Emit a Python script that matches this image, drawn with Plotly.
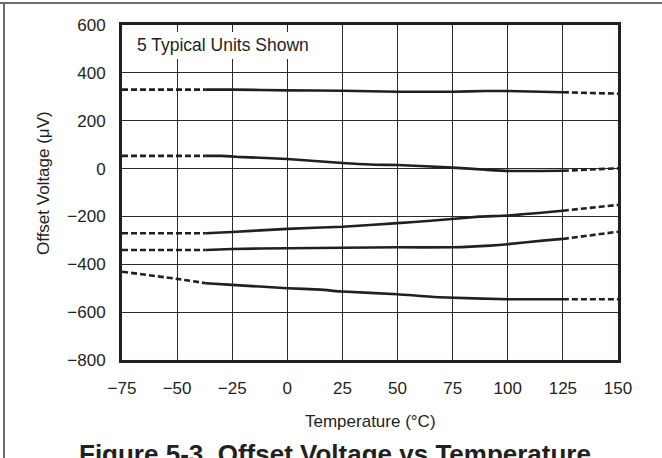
import plotly.graph_objects as go

# ---- data ----
x_ticks = [-75, -50, -25, 0, 25, 50, 75, 100, 125, 150]
y_ticks = [-800, -600, -400, -200, 0, 200, 400, 600]
measured_min = -37   # start of measured (solid) region
measured_max = 125   # end of measured (solid) region

unit1_T = [-75, -37, -25, 0, 25, 50, 75, 90, 100, 110, 125, 150]
unit1_V = [330, 330, 330, 327, 325, 321, 321, 324, 324, 322, 319, 313]

unit2_T = [-75, -37, -30, -20, 0, 25, 40, 50, 75, 90, 100, 125, 150]
unit2_V = [53, 53, 53, 48, 40, 23, 16, 15, 4, -5, -10, -9, 1]

unit3_T = [-75, -37, -25, 0, 25, 50, 65, 87, 100, 125, 150]
unit3_V = [-270, -270, -265, -252, -243, -228, -218, -201, -196, -176, -152]

unit4_T = [-75, -37, -25, 0, 50, 75, 92, 100, 117, 125, 150]
unit4_V = [-340, -340, -336, -333, -329, -329, -322, -316, -300, -294, -264]

unit5_T = [-75, -50, -37, -25, 0, 15, 25, 50, 69, 100, 125, 150]
unit5_V = [-431, -461, -479, -486, -500, -506, -514, -525, -538, -546, -546, -546]

units = [(unit1_T, unit1_V), (unit2_T, unit2_V), (unit3_T, unit3_V),
         (unit4_T, unit4_V), (unit5_T, unit5_V)]

INK = "#231f20"
FONT = "Liberation Sans, Arial, Helvetica, sans-serif"

fig = go.Figure()
for T, V in units:
    left = [(t, v) for t, v in zip(T, V) if t <= measured_min]
    mid = [(t, v) for t, v in zip(T, V) if measured_min <= t <= measured_max]
    right = [(t, v) for t, v in zip(T, V) if t >= measured_max]
    for seg, dash in ((left, "6px,3px"), (mid, "solid"), (right, "6px,3px")):
        fig.add_trace(go.Scatter(
            x=[p[0] for p in seg], y=[p[1] for p in seg], mode="lines",
            line=dict(color=INK, width=2.6, dash=dash, shape="spline", smoothing=0.4),
            showlegend=False, hoverinfo="skip"))

axis_common = dict(
    showgrid=True, gridcolor="#2b2b2b", gridwidth=1,
    showline=True, linecolor=INK, linewidth=3, mirror=True,
    zeroline=False, ticks="",
    tickfont=dict(family=FONT, size=17, color=INK),
)

fig.update_xaxes(range=[-75, 150], tickvals=x_ticks, ticklabelstandoff=11, **axis_common)
fig.update_yaxes(range=[-800, 600], tickvals=y_ticks, ticklabelstandoff=10, **axis_common)

# white label box covering grid
fig.add_shape(type="rect", xref="x", yref="y", x0=-75, x1=24, y0=458, y1=571,
              fillcolor="white", line=dict(width=0), layer="between")
fig.add_annotation(x=-69, y=516, xref="x", yref="y", text="5 Typical Units Shown",
                   showarrow=False, xanchor="left", yanchor="middle",
                   font=dict(family=FONT, size=17.5, color=INK))

W, H = 662, 458
L, R, T_, B = 122, 44, 25, 98
pw, ph = W - L - R, H - T_ - B

def px(xp):
    return (xp - L) / pw

def py(yp):
    return (H - B - yp) / ph

fig.add_annotation(x=0.5, y=py(422), xref="paper", yref="paper",
                   text="Temperature (°C)", showarrow=False,
                   xanchor="center", yanchor="middle",
                   font=dict(family=FONT, size=17, color=INK))
fig.add_annotation(x=px(43), y=py(183), xref="paper", yref="paper",
                   text="Offset Voltage (μV)", showarrow=False, textangle=-90,
                   xanchor="center", yanchor="middle",
                   font=dict(family=FONT, size=17, color=INK))
fig.add_annotation(x=px(335), y=py(437), xref="paper", yref="paper",
                   text="<b>Figure 5-3. Offset Voltage vs Temperature</b>",
                   showarrow=False, xanchor="center", yanchor="top",
                   font=dict(family=FONT, size=26, color=INK))

# page frame lines (top and left)
fig.add_shape(type="line", xref="paper", yref="paper",
              x0=px(0), x1=px(W), y0=py(3), y1=py(3),
              line=dict(color="#6d6d6d", width=2))
fig.add_shape(type="line", xref="paper", yref="paper",
              x0=px(4), x1=px(4), y0=py(3), y1=py(H),
              line=dict(color="#6d6d6d", width=2))

fig.update_layout(
    width=W, height=H,
    margin=dict(l=L, r=R, t=T_, b=B, pad=0),
    paper_bgcolor="white", plot_bgcolor="white",
    font=dict(family=FONT, color=INK),
)

fig.write_html("out.html",
               config={"displayModeBar": False, "staticPlot": True},
               post_script="document.body.style.margin='0';document.body.style.overflow='hidden';")
